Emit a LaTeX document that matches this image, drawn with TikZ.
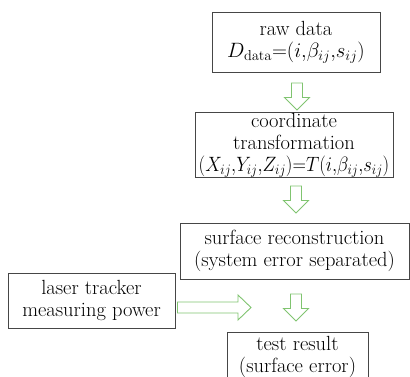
\documentclass[tikz,border=0pt]{standalone}
\usepackage{amsmath}
\usetikzlibrary{calc}
\definecolor{arrowgreen}{RGB}{128,196,112}
\definecolor{boxline}{RGB}{70,70,70}
\tikzset{
  box/.style={draw=boxline, line width=0.9pt, align=center, inner sep=0pt,
    font=\fontsize{20.5}{22}\selectfont},
  blockarrow/.style={draw=arrowgreen, line width=0.9pt, fill=white, line join=miter},
  pics/downarrow/.style={code={
    \draw[blockarrow] (-5.5,-13.5) -- (5.5,-13.5) -- (5.5,1) -- (12.5,1) -- (0,13.5)
      -- (-12.5,1) -- (-5.5,1) -- cycle;}},
}
\newcommand{\cm}{\mathord{,}}
\begin{document}
\begin{tikzpicture}[x=1pt,y=-1pt]
\useasboundingbox (0,0) rectangle (410,377);
\clip (0,0) rectangle (410,377);
\node[box, minimum width=168pt, minimum height=60pt] (raw) at (296,42)
  {raw data\\$D_{\mathrm{data}}{=}(i\cm\beta_{ij}\cm s_{ij})$};
\node[box, minimum width=198pt, minimum height=64pt] (coord) at (294,145)
  {coordinate\\transformation\\\scalebox{0.9}[1]{$(X_{ij}\cm Y_{ij}\cm Z_{ij}){=}T(i\cm\beta_{ij}\cm s_{ij})$}};
\node[box, minimum width=229pt, minimum height=56pt] (surf) at (294.5,251)
  {surface reconstruction\\(system error separated)};
\node[box, minimum width=167pt, minimum height=55pt] (laser) at (91.5,300.5)
  {laser tracker\\measuring power};
\node[box, minimum width=141pt, minimum height=60pt, anchor=north] (test) at (297.5,332)
  {\rule{0pt}{18pt}test result\\(surface error)\rule[-22pt]{0pt}{0pt}};
\pic at (297,96.5) {downarrow};
\pic at (296,199.5) {downarrow};
\pic at (296,307.5) {downarrow};
\draw[blockarrow] ($(laser.east)+(2,1.5)$) -- (238,302) -- (238,295)
  -- (251,307.5) -- (238,320) -- (238,313) -- ($(laser.east)+(2,12.5)$) -- cycle;
\end{tikzpicture}
\end{document}
